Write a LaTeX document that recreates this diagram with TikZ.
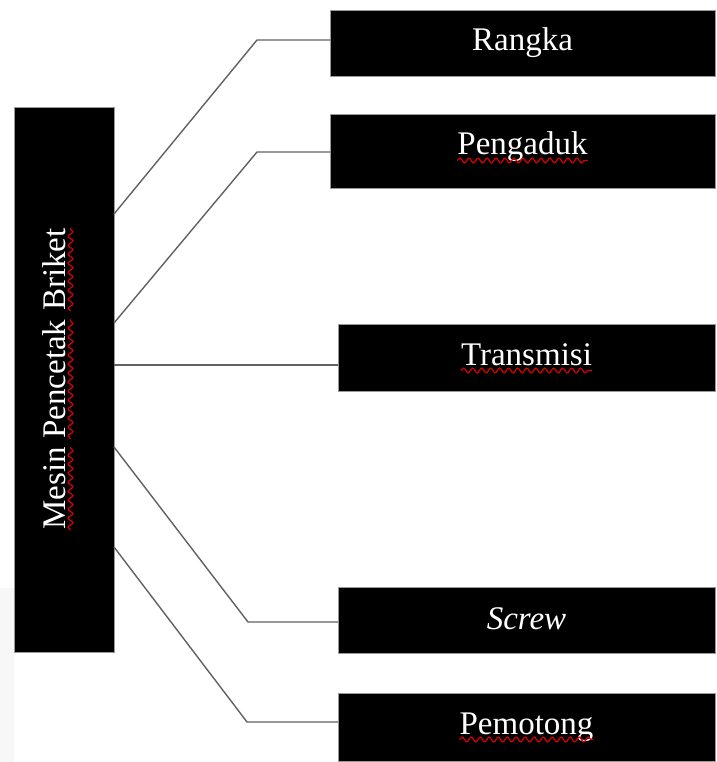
\documentclass[tikz,border=0pt]{standalone}
\usepackage{fontspec}
\setmainfont{Liberation Serif}
\usetikzlibrary{decorations.pathmorphing,calc}
\begin{document}
\begin{tikzpicture}[x=1pt,y=-1pt,
  box/.style={fill=black, draw=black!40, line width=0.8pt, inner sep=0pt, outer sep=0pt},
  lbl/.style={text=white, font=\fontsize{33}{36}\selectfont, inner sep=0pt, anchor=base},
  conn/.style={draw=black!62, line width=1.4pt},
  squig/.style={draw=red!85!black, line width=1.2pt, decorate,
    decoration={snake, amplitude=2.4pt, segment length=9pt}}]
\useasboundingbox (0,0) rectangle (716,762);
\fill[black!3] (0,588) rectangle (14,762);
% boxes
\node[box, minimum width=100pt, minimum height=545pt] (L) at (64,379.5) {};
\node[box, minimum width=385pt, minimum height=66pt] (R1) at (522.5,43) {};
\node[box, minimum width=385pt, minimum height=74pt] (R2) at (522.5,151) {};
\node[box, minimum width=377pt, minimum height=67pt] (R3) at (526.5,357.5) {};
\node[box, minimum width=377pt, minimum height=66pt] (R4) at (526.5,620) {};
\node[box, minimum width=377pt, minimum height=68pt] (R5) at (526.5,727) {};
% labels
\node[lbl] (t1) at ($(R1.north)+(0,41)$) {Rangka};
\node[lbl] (t2) at ($(R2.north)+(0,41)$) {Pengaduk};
\node[lbl] (t3) at ($(R3.north)+(0,41)$) {Transmisi};
\node[lbl] (t4) at ($(R4.north)+(0,42)$) {\itshape Screw};
\node[lbl] (t5) at ($(R5.north)+(0,41)$) {Pemotong};
\node[lbl, rotate=90, anchor=base west] (m1) at (65,530) {Mesin};
\node[lbl, rotate=90, anchor=base west] (m2) at ([yshift=8.25pt]m1.base east) {Pencetak};
\node[lbl, rotate=90, anchor=base west] (m3) at ([yshift=8.25pt]m2.base east) {Briket};
% spell-check squiggles
\draw[squig] ([yshift=-5.5pt]t2.base west) -- ([yshift=-5.5pt]t2.base east);
\draw[squig] ([yshift=-5.5pt]t3.base west) -- ([yshift=-5.5pt]t3.base east);
\draw[squig] ([yshift=-5.5pt]t5.base west) -- ([yshift=-5.5pt]t5.base east);
\draw[squig] ([xshift=5.5pt]m1.base west) -- ([xshift=5.5pt]m1.base east);
\draw[squig] ([xshift=5.5pt]m2.base west) -- ([xshift=5.5pt]m2.base east);
\draw[squig] ([xshift=5.5pt]m3.base west) -- ([xshift=5.5pt]m3.base east);
% connectors
\coordinate (s1) at (114,214);
\coordinate (s2) at (114,323);
\coordinate (s3) at (114,365);
\coordinate (s4) at (114,447);
\coordinate (s5) at (114,547);
\coordinate (b1) at (257,40);
\coordinate (b2) at (257,152);
\coordinate (b4) at (248,622);
\coordinate (b5) at (247,722);
\draw[conn] (s1) -- (b1) -- (R1.west |- b1);
\draw[conn] (s2) -- (b2) -- (R2.west |- b2);
\draw[conn] (s3) -- (R3.west |- s3);
\draw[conn] (s4) -- (b4) -- (R4.west |- b4);
\draw[conn] (s5) -- (b5) -- (R5.west |- b5);
\end{tikzpicture}
\end{document}
